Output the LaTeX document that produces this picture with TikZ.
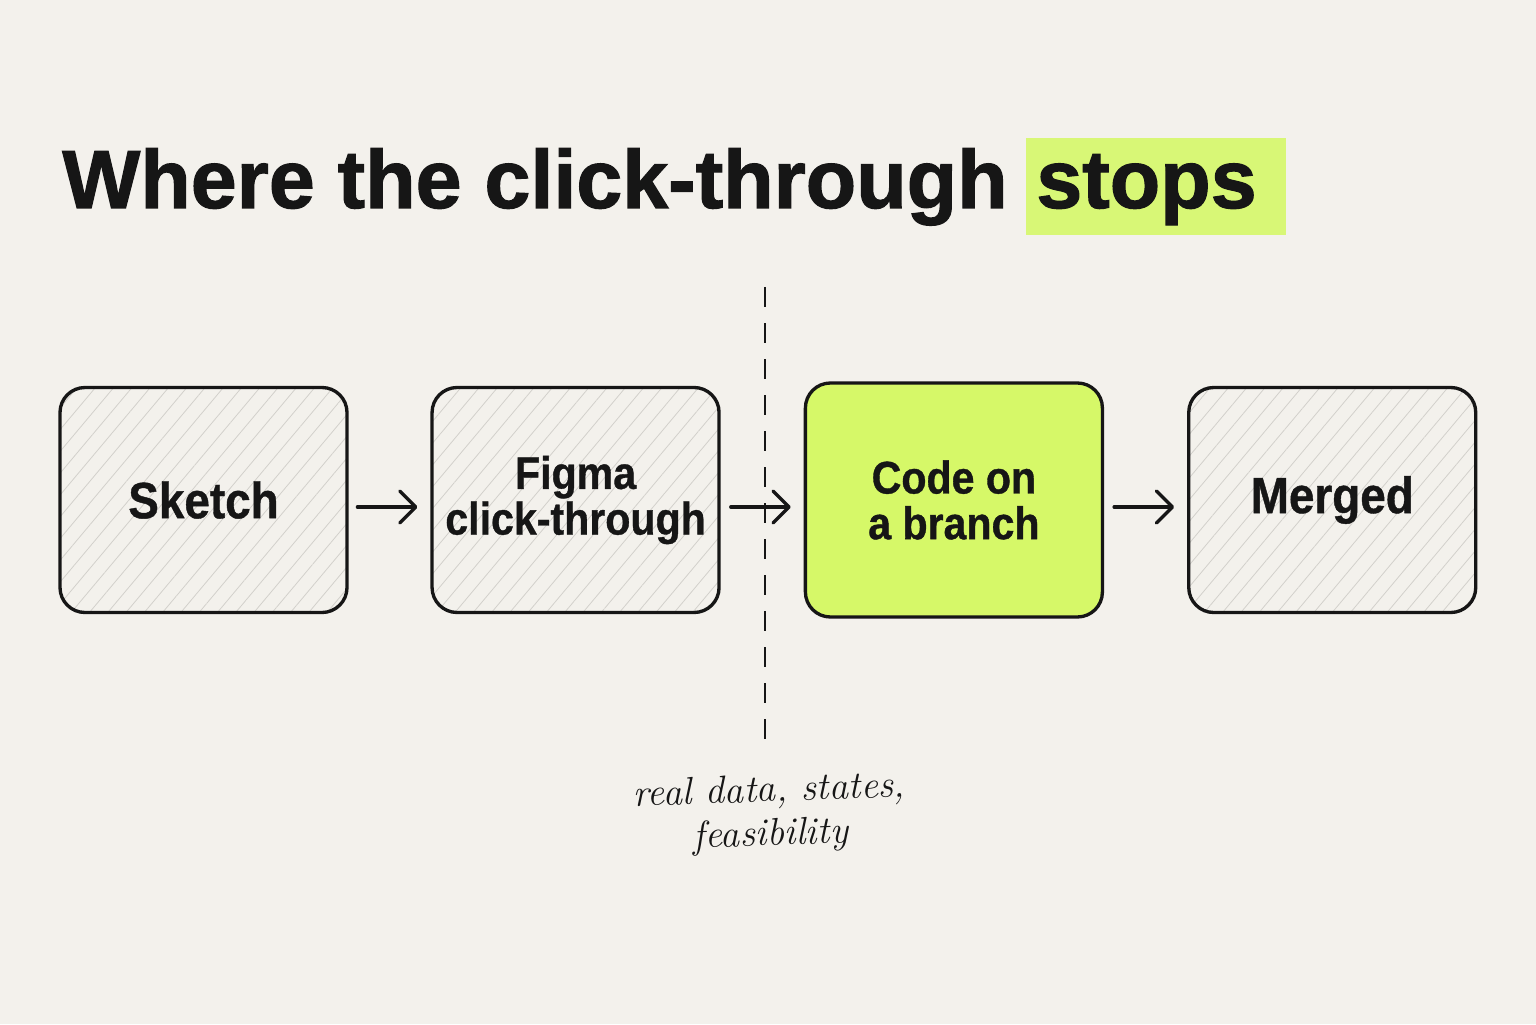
\documentclass[tikz,border=0pt]{standalone}
\usepackage{fontspec}
\usepackage{xcolor}
\usepackage{tikz}
\usetikzlibrary{arrows.meta,positioning,calc,backgrounds,patterns.meta}
\newfontfamily\titlefont[BoldFeatures={FakeBold=1.4}]{Liberation Sans}
\newfontfamily\boxfont[FakeStretch=0.9,BoldFeatures={FakeBold=0.8,FakeStretch=0.9}]{Liberation Sans}
\definecolor{paper}{RGB}{243,241,236}
\definecolor{inkdark}{RGB}{22,22,22}
\definecolor{branchlime}{RGB}{214,248,104}
\definecolor{hilite}{RGB}{216,247,118}
\definecolor{hatchgrey}{RGB}{210,208,203}

\begin{document}
\begin{tikzpicture}[
      node distance=1.66cm,
      stage/.style={rectangle, rounded corners=0.5cm, draw=inkdark, line width=1.9pt,
        minimum width=5.74cm, minimum height=4.5cm, align=center, text=inkdark,
        font=\boxfont\bfseries\fontsize{29}{29}\selectfont},
      twoline/.style={font=\boxfont\bfseries\fontsize{26}{26}\selectfont},
      hatched/.style={stage, pattern={Lines[angle=50,distance=0.28cm,line width=0.45pt]},
        pattern color=hatchgrey},
      live/.style={stage, fill=branchlime, minimum width=5.94cm, minimum height=4.68cm},
      headline/.style={anchor=base west, inner sep=0pt, text=inkdark,
        font=\titlefont\bfseries\fontsize{47}{47}\selectfont},
      arr/.style={-{Straight Barb[length=3.2mm,width=6.4mm,line cap=round,line join=round]},
        line width=1.9pt, draw=inkdark, line cap=round, shorten <=2mm, shorten >=2.6mm},
      cut/.style={draw=inkdark, line width=1.5pt, dash pattern=on 0.4cm off 0.32cm},
    ]
    \useasboundingbox (0,0) rectangle (30.72,20.48);

    % title
    \node[headline] (title) at (1.24,16.32) {Where the click-through};
    \node[headline] (stops) at ($(title.base east)+(0.56,0)$) {stops};

    % stages
    \node[hatched] (sketch) at (4.07,10.48) {Sketch};
    \node[hatched, twoline, right=of sketch] (figma) {Figma\\click-through};
    \node[live, twoline, right=of figma] (branch) {Code on\\a branch};
    \node[hatched, right=of branch] (merged) {Merged};

    \draw[arr] ([yshift=-1.4mm]sketch.east) -- ([yshift=-1.4mm]figma.west);
    \draw[arr] ([yshift=-1.4mm]figma.east) -- ([yshift=-1.4mm]branch.west);
    \draw[arr] ([yshift=-1.4mm]branch.east) -- ([yshift=-1.4mm]merged.west);

    % where it stops
    \coordinate (cuttop) at (15.3,14.74);
    \coordinate (cutbot) at (15.3,5.68);
    \draw[cut] (cuttop) -- (cutbot);
    \node[rotate=2, align=center, text=inkdark, font=\itshape\fontsize{22}{25}\selectfont]
      (note) at (15.4,4.2) {real data, states,\\feasibility};

    \begin{scope}[on background layer]
      \fill[paper] (0,0) rectangle (30.72,20.48);
      \fill[hilite] ($(stops.base west)+(-0.2,-0.54)$) rectangle ($(stops.base east)+(0.58,1.4)$);
    \end{scope}
  \end{tikzpicture}
\end{document}
